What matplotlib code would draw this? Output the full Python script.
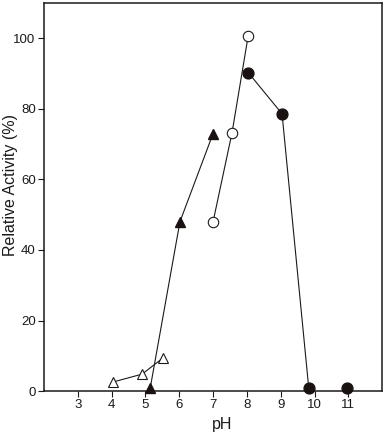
import matplotlib
matplotlib.use("Agg")
import matplotlib.pyplot as plt

plt.rcParams['font.family'] = ['Liberation Sans', 'DejaVu Sans']

# Data
open_tri_x = [4.05, 4.9, 5.52]
open_tri_y = [2.6, 4.8, 9.4]
fill_tri_x = [5.14, 6.02, 7.0]
fill_tri_y = [0.8, 48, 73]
open_circ_x = [7.0, 7.56, 8.04]
open_circ_y = [48, 73.2, 100.8]
fill_circ_x = [8.04, 9.04, 9.83]
fill_circ_y = [90.3, 78.6, 0.8]
fill_circ_extra_x = [10.95]
fill_circ_extra_y = [0.8]

xticks = [3, 4, 5, 6, 7, 8, 9, 10, 11]
yticks = [0, 20, 40, 60, 80, 100]

fig = plt.figure(figsize=(3.86, 4.36), dpi=100)
ax = fig.add_axes([0.114, 0.103, 0.876, 0.890])

lw = 0.8
dark = '#1a1a1a'
fillc = '#1a1111'
ax.plot(open_tri_x, open_tri_y, '-', color=dark, lw=lw, marker='^', ms=7.5,
        mfc='white', mec=dark, mew=0.8, clip_on=False, zorder=3)
ax.plot(fill_tri_x, fill_tri_y, '-', color=dark, lw=lw, marker='^', ms=7.5,
        mfc=fillc, mec=fillc, clip_on=False, zorder=3)
ax.plot(open_circ_x, open_circ_y, '-', color=dark, lw=lw, marker='o', ms=7.5,
        mfc='white', mec=dark, mew=0.8, clip_on=False, zorder=3)
ax.plot(fill_circ_x, fill_circ_y, '-', color=dark, lw=lw, marker='o', ms=7.8,
        mfc=fillc, mec=fillc, clip_on=False, zorder=3)
ax.plot(fill_circ_extra_x, fill_circ_extra_y, linestyle='none', marker='o', ms=7.8,
        mfc=fillc, mec=fillc, clip_on=False, zorder=3)

ax.set_xlim(2, 12)
ax.set_ylim(0, 110)
ax.set_xticks(xticks)
ax.set_yticks(yticks)
ax.tick_params(direction='out', length=4, width=0.8, labelsize=9.5, colors=dark, pad=2)
for s in ax.spines.values():
    s.set_linewidth(1.1)
    s.set_color(dark)

ax.set_xlabel('pH', fontsize=11.5, color=dark)
ax.xaxis.set_label_coords(0.527, -0.068)
ax.set_ylabel('Relative Activity (%)', fontsize=11.5, color=dark)
ax.yaxis.set_label_coords(-0.077, 0.53)

fig.savefig('out.png', dpi=100)
